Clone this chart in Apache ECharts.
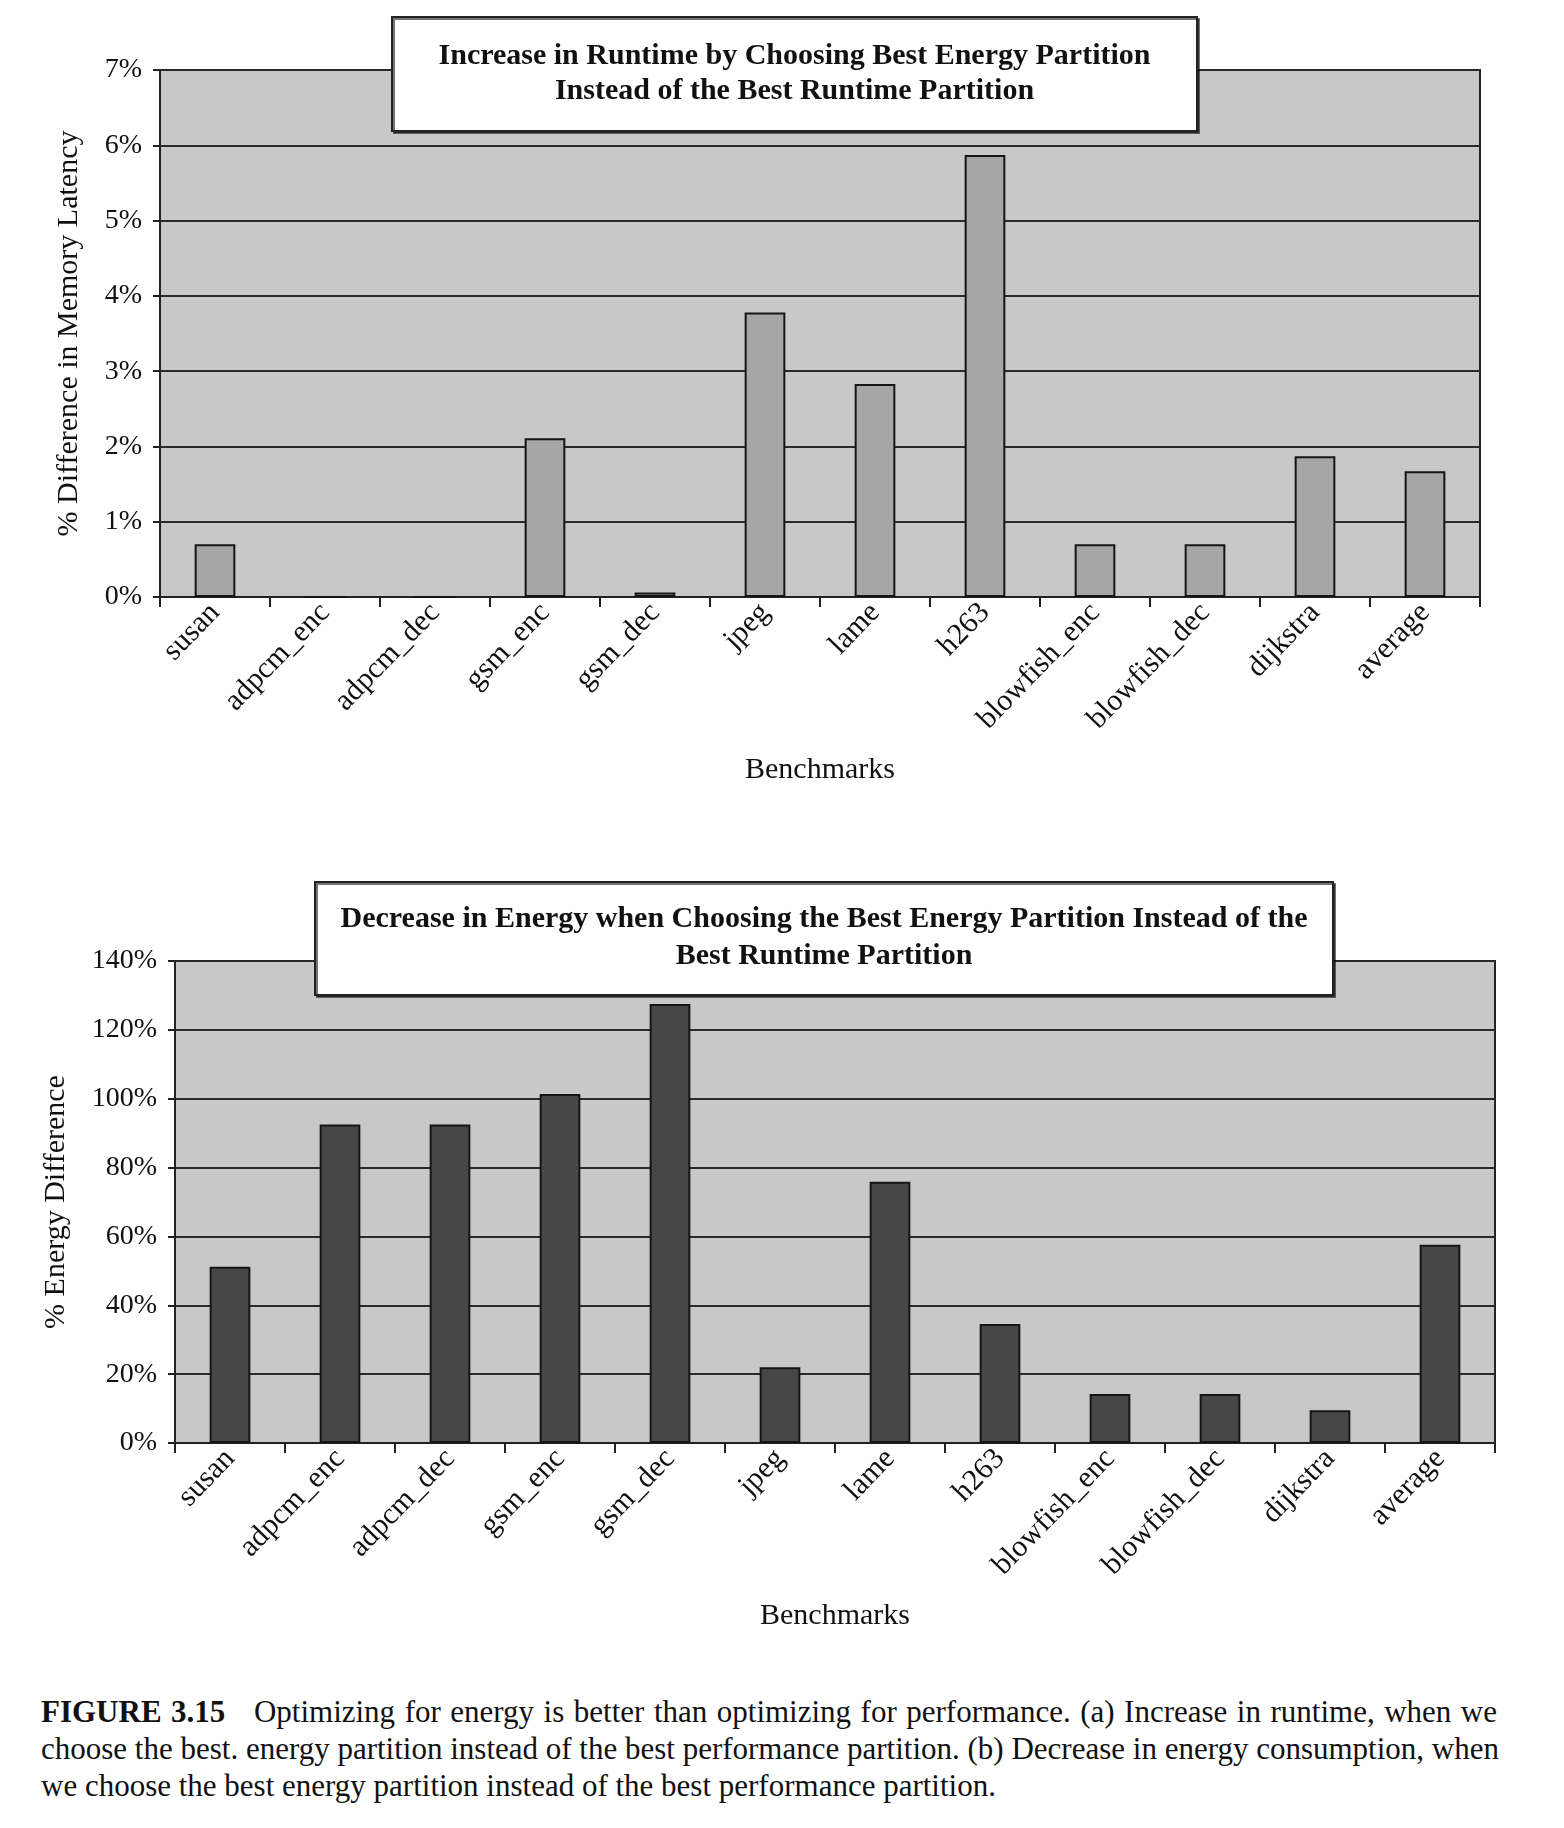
<!DOCTYPE html>
<html>
<head>
<meta charset="utf-8">
<script src="https://cdn.jsdelivr.net/npm/echarts@6/dist/echarts.min.js"></script>
<style>
  html, body { margin: 0; padding: 0; background: #fff; }
  #chart { position: absolute; left: 0; top: 0; width: 1564px; height: 1680px; }
  #caption { position: absolute; left: 41px; top: 1693px; width: 1456px;
    font-family: "Liberation Serif", serif; font-size: 31px; line-height: 37px; color: #111; }
  #caption div { text-align: justify; text-align-last: justify; white-space: nowrap; }
  #caption div.last { text-align-last: left; }
</style>
</head>
<body>
<div id="chart"></div>
<div id="caption">
  <div><b>FIGURE 3.15</b>&nbsp;&nbsp; Optimizing for energy is better than optimizing for performance. (a) Increase in runtime, when we</div>
  <div>choose the best. energy partition instead of the best performance partition. (b) Decrease in energy consumption, when</div>
  <div class="last">we choose the best energy partition instead of the best performance partition.</div>
</div>
<script>
const categories = ['susan','adpcm_enc','adpcm_dec','gsm_enc','gsm_dec','jpeg','lame','h263','blowfish_enc','blowfish_dec','dijkstra','average'];
const runtimeIncrease = [0.70, 0, 0, 2.11, 0.06, 3.78, 2.83, 5.87, 0.70, 0.70, 1.87, 1.67];
const energyDecrease = [51.2, 92.5, 92.5, 101.4, 127.5, 22.0, 75.9, 34.6, 14.2, 14.2, 9.5, 57.6];
const titleTop = ['Increase in Runtime by Choosing Best Energy Partition', 'Instead of the Best Runtime Partition'];
const titleBottom = ['Decrease in Energy when Choosing the Best Energy Partition Instead of the', 'Best Runtime Partition'];

const FONT = '"Liberation Serif", "Times New Roman", serif';
const chart = echarts.init(document.getElementById('chart'));

function xAxisCfg(gridIndex) {
  return {
    type: 'category', gridIndex: gridIndex, data: categories,
    name: 'Benchmarks', nameLocation: 'middle', nameGap: 158,
    nameTextStyle: { fontFamily: FONT, fontSize: 30, color: '#111' },
    axisLine: { show: true, lineStyle: { color: '#222', width: 2 } },
    axisTick: { show: true, length: 10, lineStyle: { color: '#222', width: 2 } },
    axisLabel: { rotate: 46, margin: 11, fontFamily: FONT, fontSize: 30, color: '#111' }
  };
}
function yAxisCfg(gridIndex, max, interval, name, gap) {
  return {
    type: 'value', gridIndex: gridIndex, min: 0, max: max, interval: interval,
    name: name, nameLocation: 'middle', nameGap: gap,
    nameTextStyle: { fontFamily: FONT, fontSize: 30, color: '#111' },
    axisLine: { show: true, lineStyle: { color: '#222', width: 2 } },
    axisTick: { show: true, length: 7, lineStyle: { color: '#222', width: 2 } },
    axisLabel: { formatter: '{value}%', margin: 18, fontFamily: FONT, fontSize: 28, color: '#111' },
    splitLine: { show: true, lineStyle: { color: '#2a2a2a', width: 2 } }
  };
}
function titleBox(x1, y1, x2, y2, lines, cy1, gap) {
  return {
    type: 'group', z: 100,
    children: [
      { type: 'rect', z: 100, shape: { x: x1, y: y1, width: x2 - x1, height: y2 - y1 },
        style: { fill: '#fff', stroke: '#222', lineWidth: 2, shadowColor: 'rgba(0,0,0,0.55)', shadowOffsetX: 2, shadowOffsetY: 2 } },
      { type: 'text', z: 101, x: (x1 + x2) / 2, y: cy1,
        style: { text: lines[0], fontFamily: FONT, fontWeight: 'bold', fontSize: 30, fill: '#111', align: 'center', verticalAlign: 'middle' } },
      { type: 'text', z: 101, x: (x1 + x2) / 2, y: cy1 + gap,
        style: { text: lines[1], fontFamily: FONT, fontWeight: 'bold', fontSize: 30, fill: '#111', align: 'center', verticalAlign: 'middle' } }
    ]
  };
}

chart.setOption({
  animation: false,
  grid: [
    { left: 160, top: 70, width: 1320, height: 527, show: true, backgroundColor: '#c8c8c8', borderColor: '#222', borderWidth: 2 },
    { left: 175, top: 961, width: 1320, height: 482, show: true, backgroundColor: '#c8c8c8', borderColor: '#222', borderWidth: 2 }
  ],
  xAxis: [xAxisCfg(0), xAxisCfg(1)],
  yAxis: [
    yAxisCfg(0, 7, 1, '% Difference in Memory Latency', 76),
    yAxisCfg(1, 140, 20, '% Energy Difference', 104)
  ],
  series: [
    { type: 'bar', xAxisIndex: 0, yAxisIndex: 0, data: runtimeIncrease, barWidth: '37%',
      itemStyle: { color: '#a6a6a6', borderColor: '#151515', borderWidth: 2 } },
    { type: 'bar', xAxisIndex: 1, yAxisIndex: 1, data: energyDecrease, barWidth: '37%',
      itemStyle: { color: '#474747', borderColor: '#151515', borderWidth: 2 } }
  ],
  graphic: [
    titleBox(392, 17, 1197, 131, titleTop, 56, 35),
    titleBox(315, 882, 1333, 995, titleBottom, 919, 37)
  ]
});
</script>
</body>
</html>
